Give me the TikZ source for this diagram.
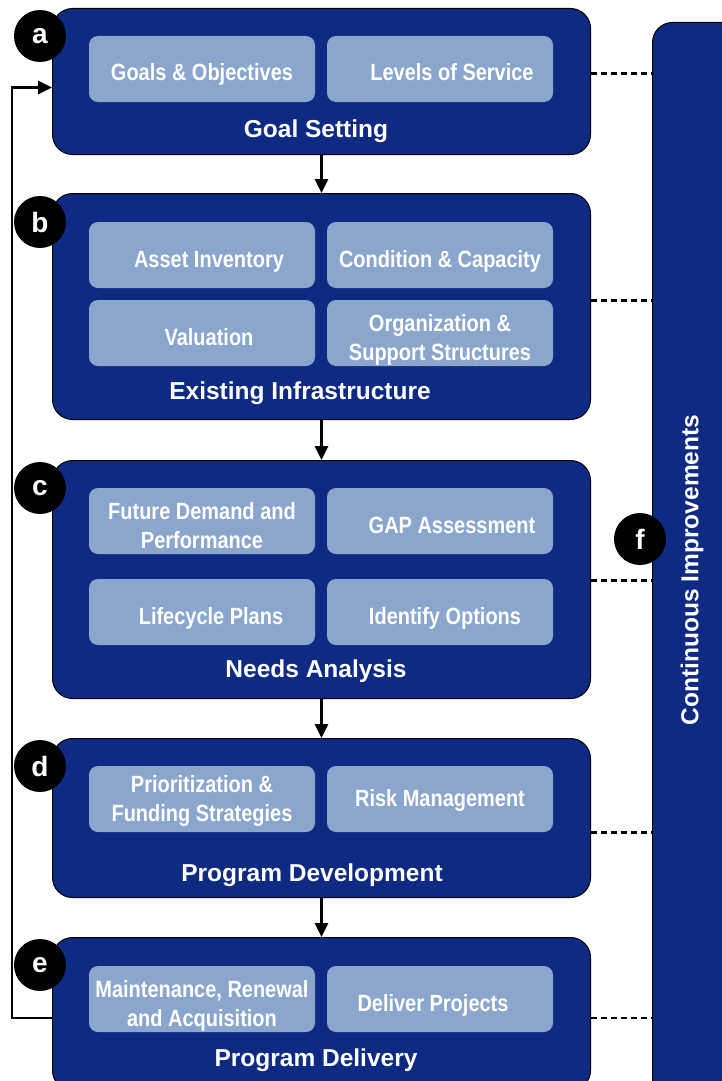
\documentclass[tikz,border=0pt]{standalone}
\usepackage{fontspec}
\setmainfont{Liberation Sans}
\newfontfamily\narrowfont[FakeStretch=0.85]{Liberation Sans}
\usetikzlibrary{arrows.meta}

\definecolor{stageblue}{RGB}{14,42,130}
\definecolor{taskblue}{RGB}{138,166,204}

\begin{document}
\begin{tikzpicture}[x=1pt,y=-1pt,
        stage/.style={draw=black, line width=1pt, fill=stageblue, rounded corners=20pt,
            minimum width=538pt, inner sep=0pt, anchor=north west},
        task/.style={fill=taskblue, rounded corners=9pt, minimum width=226pt, minimum height=66pt,
            inner sep=0pt, text=white, align=center, text height=24pt, text depth=0pt,
            font=\narrowfont\bfseries\fontsize{23.5}{29}\selectfont},
        twoline/.style={text height=54pt, text depth=0pt},
        title/.style={text=white, font=\bfseries\fontsize{24.5}{28}\selectfont},
        tag/.style={circle, fill=black, minimum size=52pt, inner sep=0pt, text=white,
            font=\bfseries\fontsize{28}{30}\selectfont},
        flow/.style={line width=2.8pt, -{Triangle[length=14pt,width=13pt]}},
        link/.style={line width=2.8pt, dash pattern=on 6pt off 4pt}]
        \useasboundingbox (0,0) rectangle (721,1081);

        % the five stages
        \node[stage, minimum height=146pt] (goal) at (52,8) {};
        \node[stage, minimum height=226pt] (infra) at (52,193) {};
        \node[stage, minimum height=238pt] (needs) at (52,460) {};
        \node[stage, minimum height=159pt] (develop) at (52,738) {};
        \node[stage, minimum height=153pt] (delivery) at (52,937) {};

        % continuous improvements bar
        \node[draw=black, line width=1pt, fill=stageblue, rounded corners=20pt, minimum width=100pt,
            minimum height=1080pt, anchor=north west] (bar) at (652,22) {};
        \node[title, rotate=90] (barlabel) at (692,570) {Continuous Improvements};

        % tasks
        \node[task] (objectives) at (202,69) {Goals \& Objectives};
        \node[task] (service) at (440,69) {\hspace*{24pt}Levels of Service};
        \node[title] (goaltitle) at (316,131) {Goal Setting};

        \node[task, text height=25pt] (inventory) at (202,255) {\hspace*{14pt}Asset Inventory};
        \node[task, text height=25pt] (condition) at (440,255) {Condition \& Capacity};
        \node[task] (valuation) at (202,333) {\hspace*{14pt}Valuation};
        \node[task, twoline, text height=55pt] (support) at (440,333) {Organization \&\\Support Structures};
        \node[title] (infratitle) at (300,393) {Existing Infrastructure};

        \node[task, twoline] (demand) at (202,521) {Future Demand and\\Performance};
        \node[task, text height=25pt] (gap) at (440,521) {\hspace*{24pt}GAP Assessment};
        \node[task, text height=25pt] (lifecycle) at (202,612) {\hspace*{18pt}Lifecycle Plans};
        \node[task, text height=25pt] (options) at (440,612) {\hspace*{10pt}Identify Options};
        \node[title] (needstitle) at (316,671) {Needs Analysis};

        \node[task, twoline, text height=45pt] (funding) at (202,799) {Prioritization \&\\Funding Strategies};
        \node[task, text height=15pt] (risk) at (440,799) {Risk Management};
        \node[title] (developtitle) at (312,875) {Program Development};

        \node[task, twoline] (renewal) at (202,999) {Maintenance, Renewal\\and Acquisition};
        \node[task] (projects) at (440,999) {Deliver Projects\hspace*{14pt}};
        \node[title] (deliverytitle) at (316,1060) {Program Delivery};

        % arrows
        \draw[flow] (goal.south) -- (infra.north);
        \draw[flow] (infra.south) -- (needs.north);
        \draw[flow] (needs.south) -- (develop.north);
        \draw[flow] (develop.south) -- (delivery.north);
        \draw[flow] ([yshift=-4pt]delivery.west) -- ++(-40pt,0) |- ([yshift=-6pt]goal.west);

        % dashed links to the bar
        \draw[link] ([yshift=8pt]goal.east) -- ([yshift=8pt]goal.east -| bar.west);
        \draw[link] ([yshift=6pt]infra.east) -- ([yshift=6pt]infra.east -| bar.west);
        \draw[link] ([yshift=-1pt]needs.east) -- ([yshift=-1pt]needs.east -| bar.west);
        \draw[link] ([yshift=-14.5pt]develop.east) -- ([yshift=-14.5pt]develop.east -| bar.west);
        \draw[link] ([yshift=-4pt]delivery.east) -- ([yshift=-4pt]delivery.east -| bar.west);

        % letters
        \node[tag] (taga) at (40,36) {a};
        \node[tag] (tagb) at (40,222) {b};
        \node[tag] (tagc) at (40,488) {c};
        \node[tag] (tagd) at (40,766) {d};
        \node[tag] (tage) at (40,965) {e};
        \node[tag] (tagf) at (640,539) {f};
    \end{tikzpicture}
\end{document}
